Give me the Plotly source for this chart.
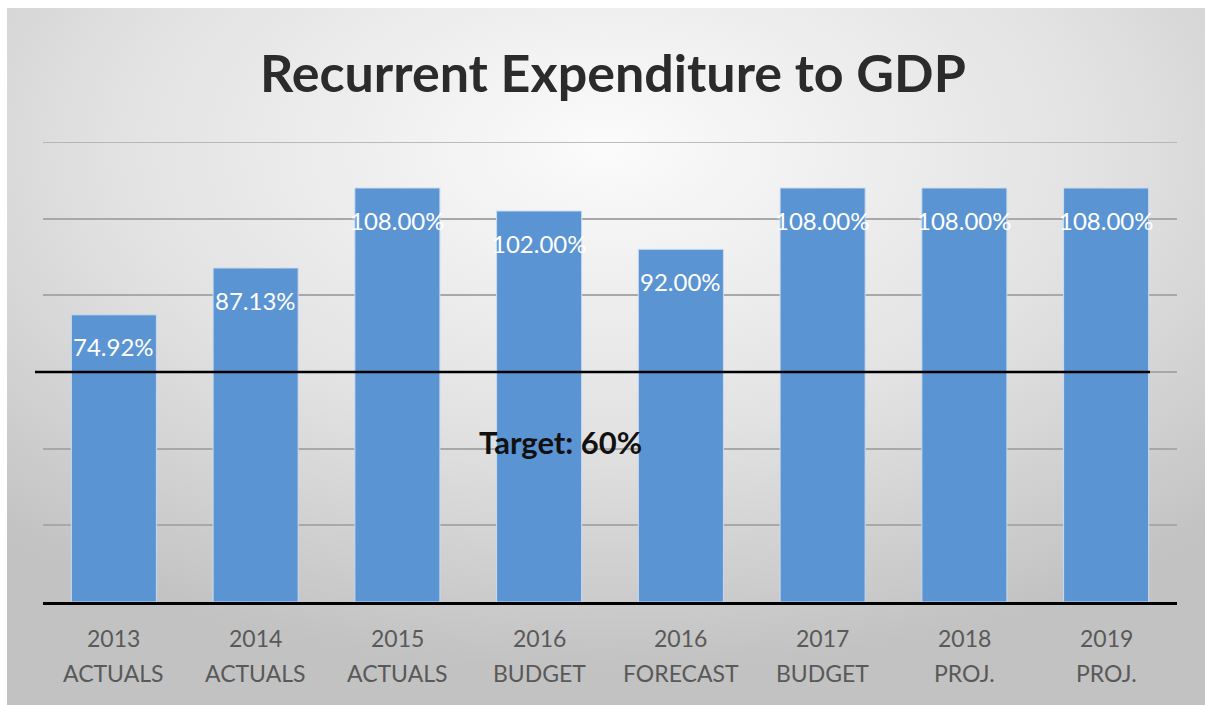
import base64
import plotly.graph_objects as go

# ---- data ----
years = ["2013", "2014", "2015", "2016", "2016", "2017", "2018", "2019"]
kinds = ["ACTUALS", "ACTUALS", "ACTUALS", "BUDGET", "FORECAST", "BUDGET", "PROJ.", "PROJ."]
values = [74.92, 87.13, 108.00, 102.00, 92.00, 108.00, 108.00, 108.00]
target = 60
title_text = "Recurrent Expenditure to GDP"
target_label = "Target: 60%"
y_ticks = [0, 20, 40, 60, 80, 100, 120]

categories = [f"{y} {k}" for y, k in zip(years, kinds)]

W, H = 1205, 705
ML, MR, MT, MB = 43, 28, 142, 103
PW, PH = W - ML - MR, H - MT - MB
FONT = "Lato, 'Open Sans', sans-serif"


def px_to_paper_x(px):
    return (px - ML) / PW


def px_to_paper_y(py):
    return (H - MB - py) / PH


svg = (
    "<svg xmlns='http://www.w3.org/2000/svg' width='1198' height='697'>"
    "<defs><radialGradient id='g' cx='0.5' cy='0.2' r='0.75'>"
    "<stop offset='0' stop-color='#fbfbfb'/>"
    "<stop offset='0.55' stop-color='#e2e2e2'/>"
    "<stop offset='1' stop-color='#c2c2c2'/>"
    "</radialGradient></defs>"
    "<rect width='100%' height='100%' fill='url(#g)'/></svg>"
)
bg_src = "data:image/svg+xml;base64," + base64.b64encode(svg.encode()).decode()

fig = go.Figure()
fig.add_trace(go.Bar(
    x=categories,
    y=values,
    marker=dict(color="#5b94d3", line=dict(color="#c9dcf0", width=1)),
    hoverinfo="skip",
))

annotations = []
for c, v in zip(categories, values):
    annotations.append(dict(
        x=c, y=v, xref="x", yref="y", text=f"{v:.2f}%", showarrow=False,
        xanchor="center", yanchor="middle",
        yshift=-32, font=dict(family=FONT, size=24, color="white"),
    ))
for c, yr, k in zip(categories, years, kinds):
    annotations.append(dict(
        x=c, y=px_to_paper_y(638), xref="x", yref="paper", text=yr, showarrow=False,
        xanchor="center", yanchor="middle",
        font=dict(family=FONT, size=23, color="#595959"),
    ))
    annotations.append(dict(
        x=c, y=px_to_paper_y(673), xref="x", yref="paper", text=k, showarrow=False,
        xanchor="center", yanchor="middle",
        font=dict(family=FONT, size=23, color="#595959"),
    ))
annotations.append(dict(
    x=px_to_paper_x(560), y=px_to_paper_y(442), xref="paper", yref="paper",
    text=f"<b>{target_label}</b>", showarrow=False,
    xanchor="center", yanchor="middle",
    font=dict(family=FONT, size=31, color="#111111"),
))
annotations.append(dict(
    x=px_to_paper_x(613), y=px_to_paper_y(72), xref="paper", yref="paper",
    text=f"<b>{title_text}</b>", showarrow=False,
    xanchor="center", yanchor="middle",
    font=dict(family=FONT, size=52, color="#2b2b2b"),
))

shapes = [
    dict(type="line", xref="paper", yref="y", x0=0, x1=1,
         y0=y_ticks[-1], y1=y_ticks[-1],
         line=dict(color="#a8a8a8", width=1.5), layer="below"),
    dict(type="line", xref="paper", yref="y",
         x0=px_to_paper_x(35), x1=px_to_paper_x(1150), y0=target, y1=target,
         line=dict(color="black", width=2.5), layer="above"),
]

fig.update_layout(
    width=W, height=H,
    margin=dict(l=ML, r=MR, t=MT, b=MB),
    paper_bgcolor="white",
    plot_bgcolor="rgba(0,0,0,0)",
    showlegend=False,
    bargap=0.4,
    annotations=annotations,
    shapes=shapes,
    images=[dict(
        source=bg_src, xref="paper", yref="paper",
        x=px_to_paper_x(7), y=px_to_paper_y(8),
        sizex=px_to_paper_x(W) - px_to_paper_x(7),
        sizey=px_to_paper_y(8) - px_to_paper_y(H),
        xanchor="left", yanchor="top", sizing="stretch", layer="below",
    )],
    xaxis=dict(showticklabels=False, showgrid=False, showline=True,
               linecolor="black", linewidth=3, ticks="", fixedrange=True),
    yaxis=dict(range=[0, 120], tickvals=y_ticks, showticklabels=False,
               showgrid=True, gridcolor="#a8a8a8", gridwidth=1.5,
               zeroline=False, showline=False, fixedrange=True),
)

fig.write_html("out.html", config={"displayModeBar": False})
